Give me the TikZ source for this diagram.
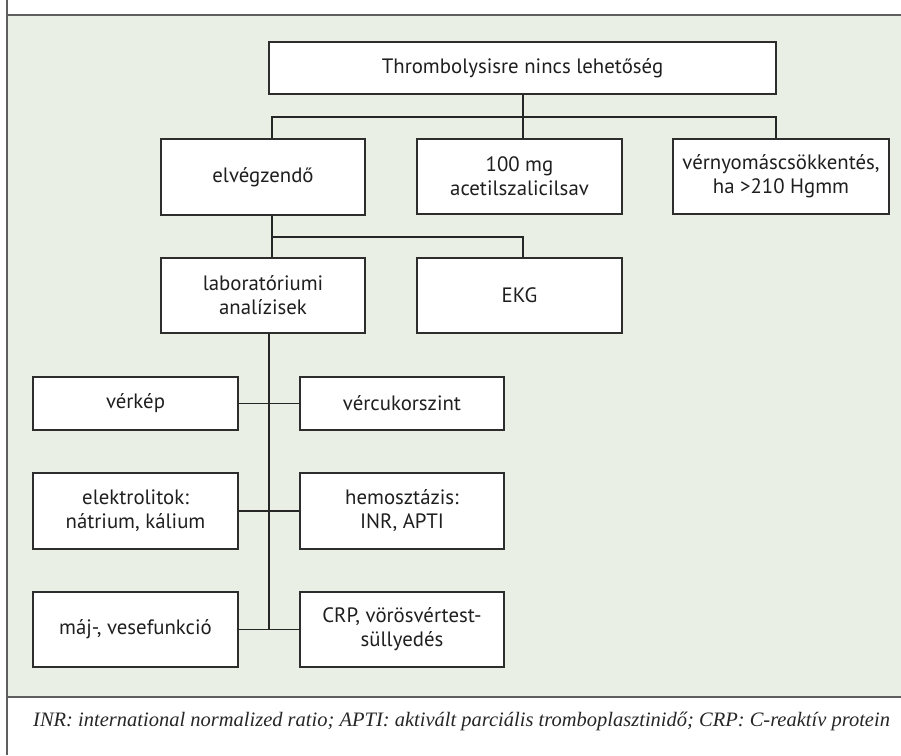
\documentclass[tikz,border=0pt]{standalone}
\usepackage{fontspec}
\setmainfont{PT Sans}
\newfontfamily\capfont{Liberation Serif}
\definecolor{bggreen}{RGB}{233,239,228}
\definecolor{framegray}{RGB}{95,95,95}
\definecolor{boxline}{RGB}{45,45,45}
\begin{document}
\begin{tikzpicture}[x=1pt,y=-1pt,
  box/.style={draw=boxline,line width=1.2pt,fill=white,inner sep=0pt,align=center,
    font=\fontsize{20.8}{24}\selectfont,text=black!88},
  conn/.style={draw=black!85,line width=1.1pt}]
\useasboundingbox (0,0) rectangle (901,755);
% background and frame
\fill[bggreen] (7,15) rectangle (901,697);
\draw[framegray,line width=1.5pt] (7,0) -- (7,755);
\draw[framegray,line width=1.5pt] (7,15) -- (901,15);
\draw[framegray,line width=1.5pt] (7,697) -- (901,697);
% nodes
\node[box,minimum width=507pt,minimum height=52pt] (top) at (522.5,68) {Thrombolysisre nincs lehetőség};
\node[box,minimum width=204pt,minimum height=76pt] (elv) at (263,177) {elvégzendő};
\node[box,minimum width=205pt,minimum height=75pt] (asp) at (519.5,176.5) {100 mg\\acetilszalicilsav};
\node[box,minimum width=216pt,minimum height=75pt] (bp) at (781,176.5) {vérnyomáscsökkentés,\\ha >210 Hgmm};
\node[box,minimum width=204pt,minimum height=75pt] (lab) at (263,295.5) {laboratóriumi\\analízisek};
\node[box,minimum width=205pt,minimum height=75pt] (ekg) at (519.5,295.5) {EKG};
\node[box,minimum width=205pt,minimum height=53pt] (verkep) at (135.5,403.5) {vérkép};
\node[box,minimum width=204pt,minimum height=53pt] (vercukor) at (402,403.5) {vércukorszint};
\node[box,minimum width=205pt,minimum height=76pt] (elektro) at (135.5,511) {elektrolitok:\\nátrium, kálium};
\node[box,minimum width=204pt,minimum height=76pt] (hemo) at (402,511) {hemosztázis:\\INR, APTI};
\node[box,minimum width=205pt,minimum height=75pt] (maj) at (135.5,629.5) {máj-, vesefunkció};
\node[box,minimum width=204pt,minimum height=75pt] (crp) at (402,629.5) {CRP, vörösvértest-\\süllyedés};
% junctions
\coordinate (j1) at (523,117);
\coordinate (j2) at (272,237);
% connectors
\draw[conn] (top.south -| j1) -- (asp.north -| j1);
\draw[conn] ([xshift=9pt]elv.north) |- (j1) -| ([xshift=-5pt]bp.north);
\draw[conn] ([xshift=9pt]elv.south) -- ([xshift=9pt]lab.north);
\draw[conn] (j2) -| ([xshift=3.5pt]ekg.north);
\draw[conn] ([xshift=6pt]lab.south) -- ([xshift=6pt]lab.south |- maj.east);
\draw[conn] (verkep.east) -- (vercukor.west);
\draw[conn] (elektro.east) -- (hemo.west);
\draw[conn] (maj.east) -- (crp.west);
% caption
\node[anchor=base west,inner sep=0pt,font=\capfont\itshape\fontsize{20.5}{24}\selectfont,text=black!85] (cap) at (33,726)
  {INR: international normalized ratio; APTI: aktivált parciális tromboplasztinidő; CRP: C-reaktív protein};
\end{tikzpicture}
\end{document}
